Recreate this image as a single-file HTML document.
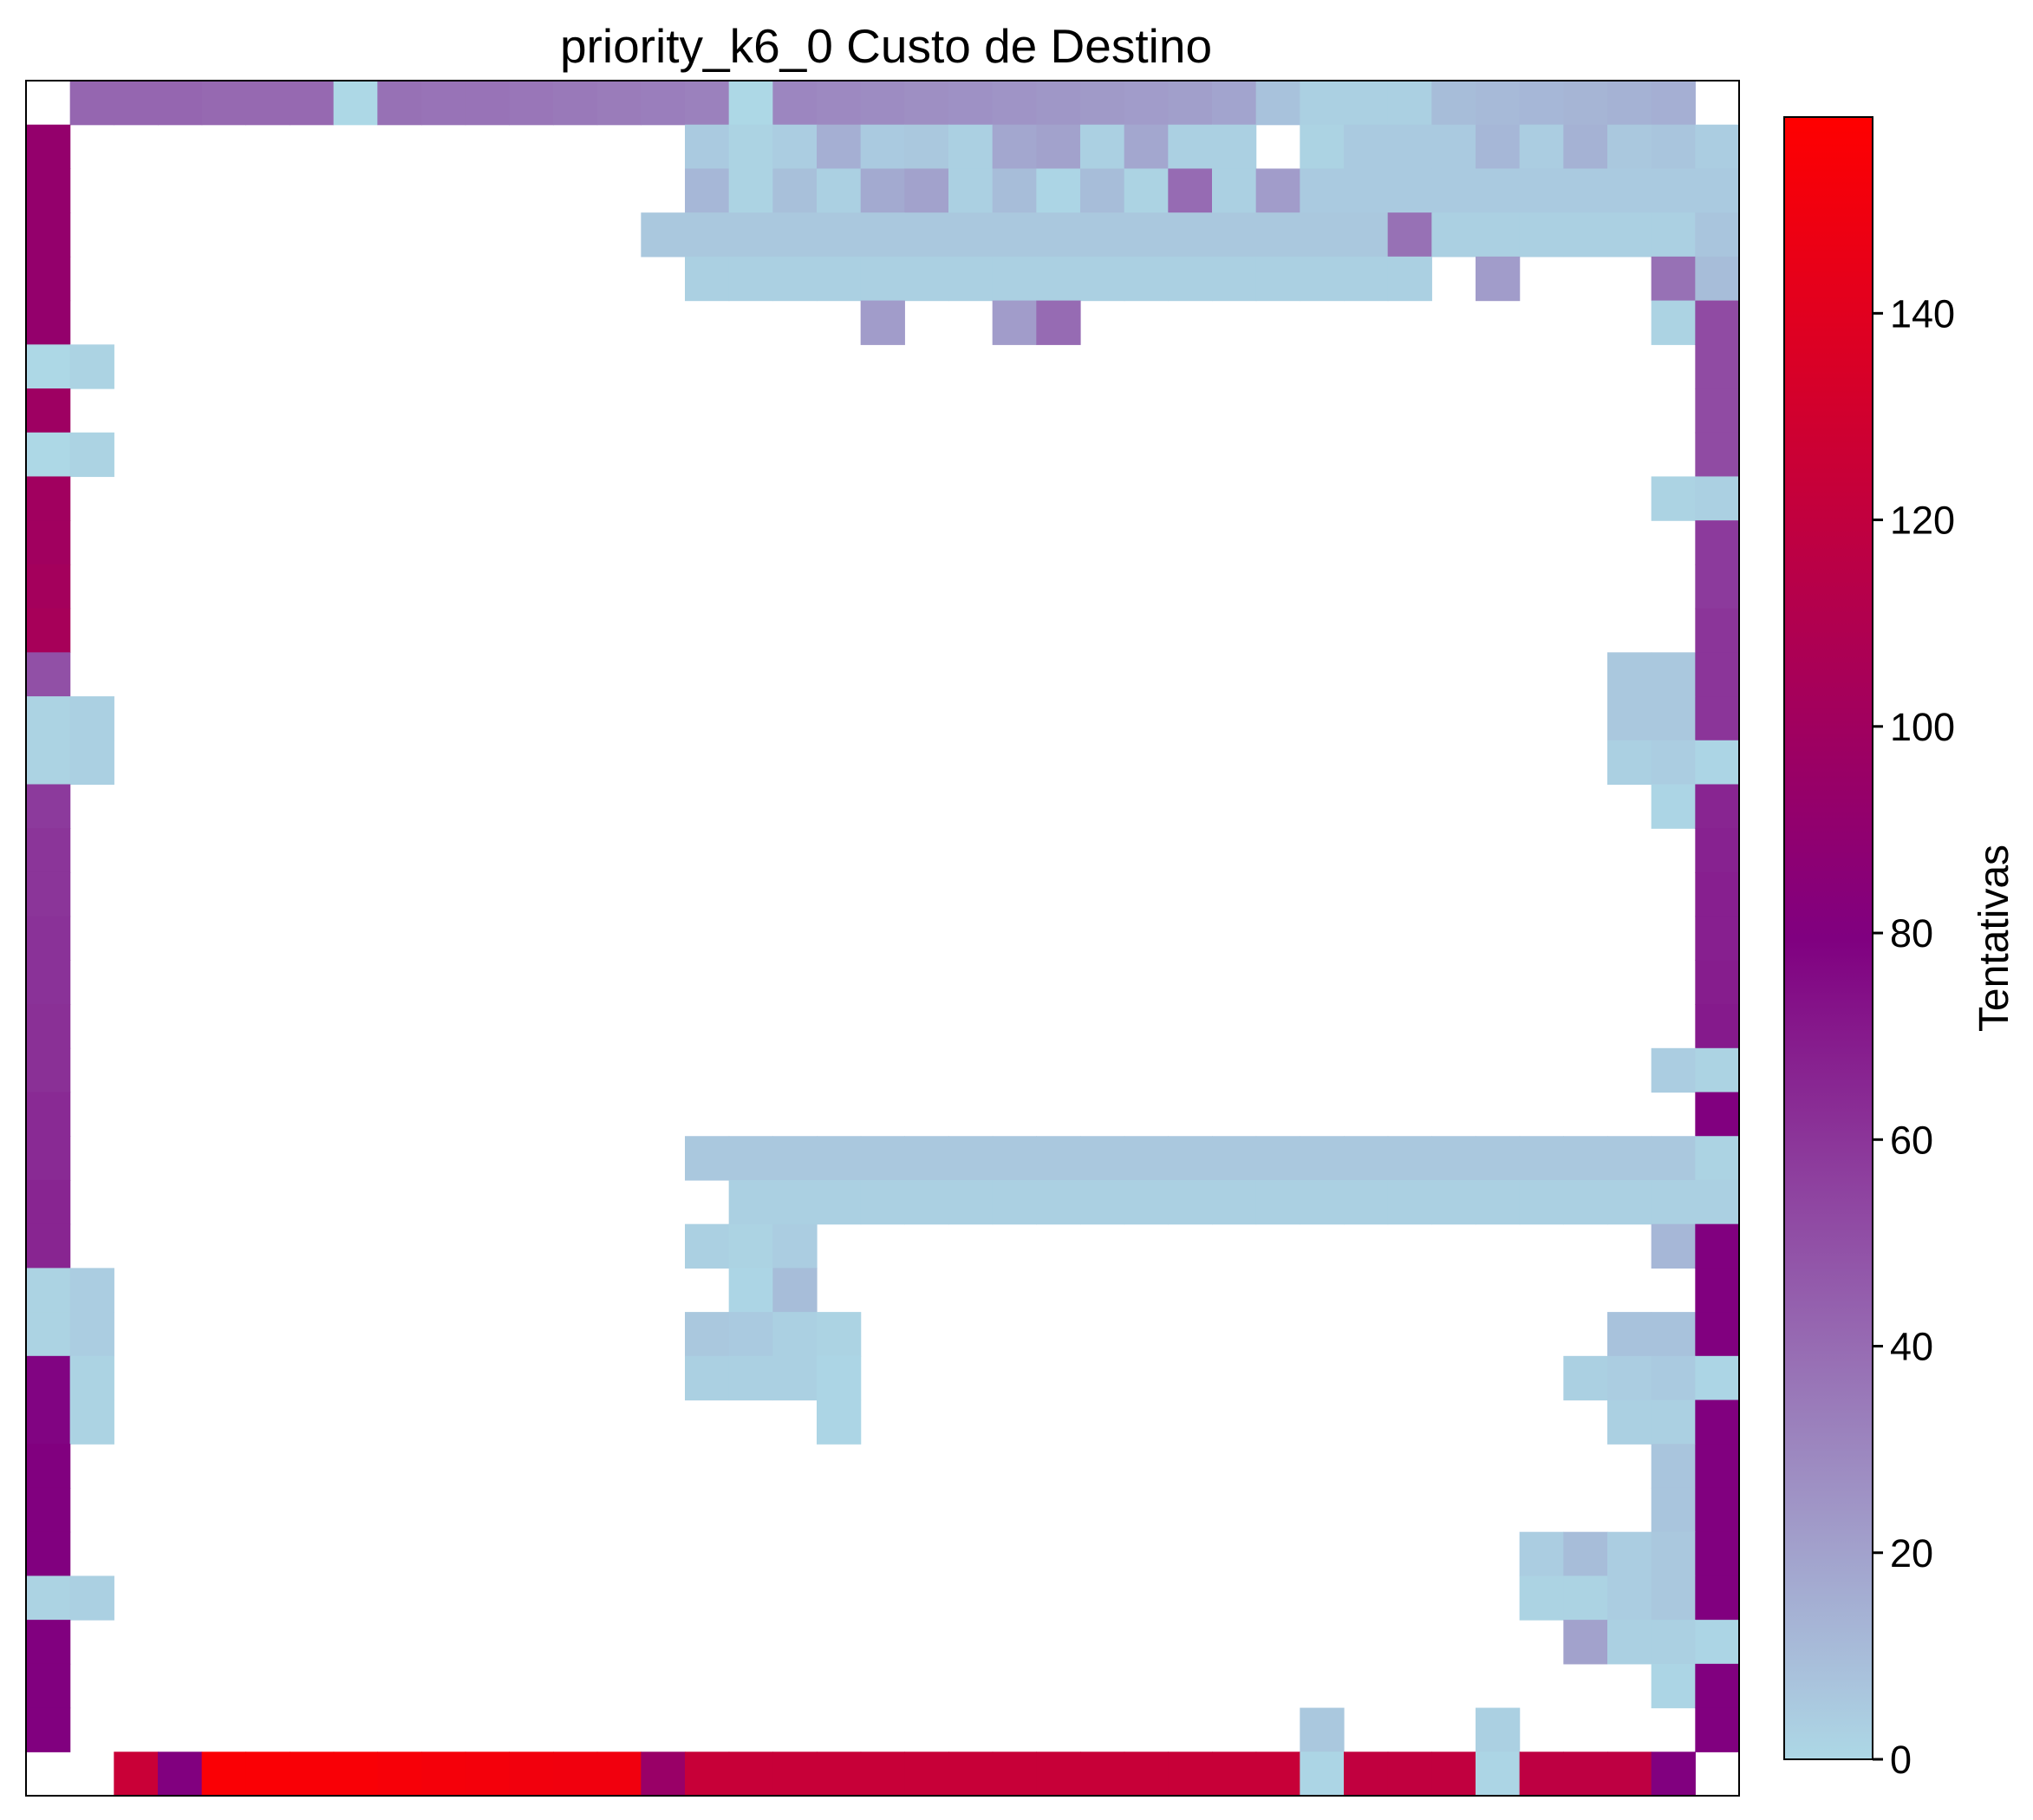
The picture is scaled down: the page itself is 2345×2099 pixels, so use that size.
<!DOCTYPE html>
<html><head><meta charset="utf-8"><style>
body{margin:0;background:#fff;}
svg{display:block;font-family:"Liberation Sans","DejaVu Sans",sans-serif;}
</style></head><body>
<svg id="chart" width="2345" height="2099" viewBox="0 0 2345 2099" xmlns="http://www.w3.org/2000/svg">
<defs><linearGradient id="cbgrad" x1="0" y1="1" x2="0" y2="0"></linearGradient></defs>
<rect width="2345" height="2099" fill="#fff"/>
<text x="1022" y="72" font-size="55" text-anchor="middle" fill="#000">priority_k6_0 Custo de Destino</text>
<g id="cells"></g>
<rect x="30" y="93" width="1976" height="1978" fill="none" stroke="#000" stroke-width="2"/>
<rect x="2058" y="135" width="102" height="1894" fill="url(#cbgrad)" stroke="#000" stroke-width="2"/>
<g id="cbticks"></g>
<text transform="translate(2316,1082) rotate(-90)" font-size="48" text-anchor="middle" fill="#000">Tentativas</text>
</svg>
<script>
const N = 39;
const vmax = 159;
const tickValues = [0, 20, 40, 60, 80, 100, 120, 140];
const _ = null;
const rowTop = [_,42,42,42,41,41,41,0,38,37,37,36,35,34,33,32,0,30,29,28,27,26,25,24,23,22,21,19,8,3,3,3,10,11,12,13,14,15,_];
const rowBottom = [_,_,125,80,156,156,155,155,154,153,152,151,150,150,95,124,124,124,124,124,124,124,124,124,124,124,124,124,124,1,120,120,120,1,118,118,118,80,_];
const leftCol = [_,92,92,92,92,92,0,98,0,100,100,102,104,50,2,2,58,60,60,61,61,62,62,64,64,66,66,2,2,78,78,80,80,80,2,80,80,80,_];
const rightCol = [_,4,5,7,10,52,52,52,52,3,58,58,60,60,60,1,66,67,68,68,69,70,2,80,2,3,80,80,80,1,80,80,80,80,80,1,80,80,_];
const secondCol = {6:2,8:2,14:3,15:3,27:4,28:4,29:2,30:2,34:3};
const interior = [
 [1,15,5],[1,16,2],[1,17,4],[1,18,15],[1,19,5],[1,20,6],[1,21,3],[1,22,18],[1,23,20],[1,24,3],[1,25,18],[1,26,3],[1,27,3],[1,29,2],[1,30,5],[1,31,5],[1,32,5],[1,33,12],[1,34,4],[1,35,14],[1,36,6],[1,37,7],
 [2,15,12],[2,16,2],[2,17,9],[2,18,3],[2,19,17],[2,20,20],[2,21,3],[2,22,10],[2,23,1],[2,24,10],[2,25,2],[2,26,40],[2,27,3],[2,28,22],[2,29,5],[2,30,5],[2,31,5],[2,32,5],[2,33,5],[2,34,5],[2,35,5],[2,36,5],[2,37,5],
 [3,14,6],[3,15,6],[3,16,6],[3,17,6],[3,18,6],[3,19,6],[3,20,6],[3,21,6],[3,22,6],[3,23,6],[3,24,6],[3,25,6],[3,26,6],[3,27,6],[3,28,6],[3,29,6],[3,30,6],[3,31,38],[3,32,3],[3,33,3],[3,34,3],[3,35,3],[3,36,3],[3,37,3],
 [4,15,3],[4,16,3],[4,17,3],[4,18,3],[4,19,3],[4,20,3],[4,21,3],[4,22,3],[4,23,3],[4,24,3],[4,25,3],[4,26,3],[4,27,3],[4,28,3],[4,29,3],[4,30,3],[4,31,3],[4,33,22],[4,37,38],
 [5,19,22],[5,22,22],[5,23,40],[5,37,2],
 [9,37,2],[13,36,6],[13,37,6],[14,36,6],[14,37,6],[15,36,3],[15,37,4],[16,37,1],[22,37,4],
 [24,15,6],[24,16,6],[24,17,6],[24,18,6],[24,19,6],[24,20,6],[24,21,6],[24,22,6],[24,23,6],[24,24,6],[24,25,6],[24,26,6],[24,27,6],[24,28,6],[24,29,6],[24,30,6],[24,31,6],[24,32,6],[24,33,6],[24,34,6],[24,35,6],[24,36,6],[24,37,6],
 [25,16,3],[25,17,3],[25,18,3],[25,19,3],[25,20,3],[25,21,3],[25,22,3],[25,23,3],[25,24,3],[25,25,3],[25,26,3],[25,27,3],[25,28,3],[25,29,3],[25,30,3],[25,31,3],[25,32,3],[25,33,3],[25,34,3],[25,35,3],[25,36,3],[25,37,3],
 [26,15,3],[26,16,2],[26,17,4],[26,37,12],
 [27,16,1],[27,17,10],
 [28,15,6],[28,16,5],[28,17,3],[28,18,2],[28,36,8],[28,37,8],
 [29,15,3],[29,16,3],[29,17,3],[29,18,1],[29,35,3],[29,36,4],[29,37,5],
 [30,18,1],[30,36,3],[30,37,3],[31,37,7],[32,37,7],
 [33,34,4],[33,35,10],[33,36,4],[33,37,6],
 [34,34,2],[34,35,2],[34,36,4],[34,37,6],
 [35,35,20],[35,36,3],[35,37,3],[36,37,1],[37,29,6],[37,33,3]
];
const X0 = 30, Y0 = 93, W = 1976, H = 1978;
const cw = W / N, ch = H / N;
function xScale(c){ return X0 + c * cw; }
function yScale(r){ return Y0 + r * ch; }
const stops = [[173,216,230],[128,0,128],[255,0,0]];
function cmap(v){
  let t = Math.max(0, Math.min(1, v / vmax)) * 2;
  let i = Math.min(1, Math.floor(t)); let f = t - i;
  const a = stops[i], b = stops[i+1];
  return 'rgb(' + a.map((x,k)=>Math.round(x + (b[k]-x)*f)).join(',') + ')';
}
const NS = 'http://www.w3.org/2000/svg';
const grid = Array.from({length:N}, ()=>Array(N).fill(null));
for (let c=0;c<N;c++){ grid[0][c]=rowTop[c]; grid[N-1][c]=rowBottom[c]; }
for (let r=0;r<N;r++){ if(r>0&&r<N-1){ grid[r][0]=leftCol[r]; grid[r][N-1]=rightCol[r]; } }
for (const k in secondCol){ grid[+k][1]=secondCol[k]; }
for (const [r,c,v] of interior){ grid[r][c]=v; }
const g = document.getElementById('cells');
for (let r=0;r<N;r++) for (let c=0;c<N;c++){
  const v = grid[r][c]; if (v===null) continue;
  const rect = document.createElementNS(NS,'rect');
  rect.setAttribute('x', xScale(c)); rect.setAttribute('y', yScale(r));
  rect.setAttribute('width', cw+0.6); rect.setAttribute('height', ch+0.6);
  rect.setAttribute('fill', cmap(v));
  
  
  g.appendChild(rect);
}
const grad = document.getElementById('cbgrad');
for (let i=0;i<=20;i++){
  const s = document.createElementNS(NS,'stop');
  s.setAttribute('offset', (i/20));
  s.setAttribute('stop-color', cmap(i/20*vmax));
  grad.appendChild(s);
}
const CB0 = 2029, CB1 = 135;
function cbY(v){ return CB0 - v / vmax * (CB0 - CB1); }
const tg = document.getElementById('cbticks');
for (const v of tickValues){
  const y = cbY(v);
  const ln = document.createElementNS(NS,'line');
  ln.setAttribute('x1',2160); ln.setAttribute('x2',2172); ln.setAttribute('y1',y); ln.setAttribute('y2',y);
  ln.setAttribute('stroke','#000'); ln.setAttribute('stroke-width',3);
  
  
  tg.appendChild(ln);
  const t = document.createElementNS(NS,'text');
  t.setAttribute('x',2180); t.setAttribute('y',y+16); t.setAttribute('font-size',45);
  t.textContent = v;
  
  
  tg.appendChild(t);
}
</script>
</body></html>
